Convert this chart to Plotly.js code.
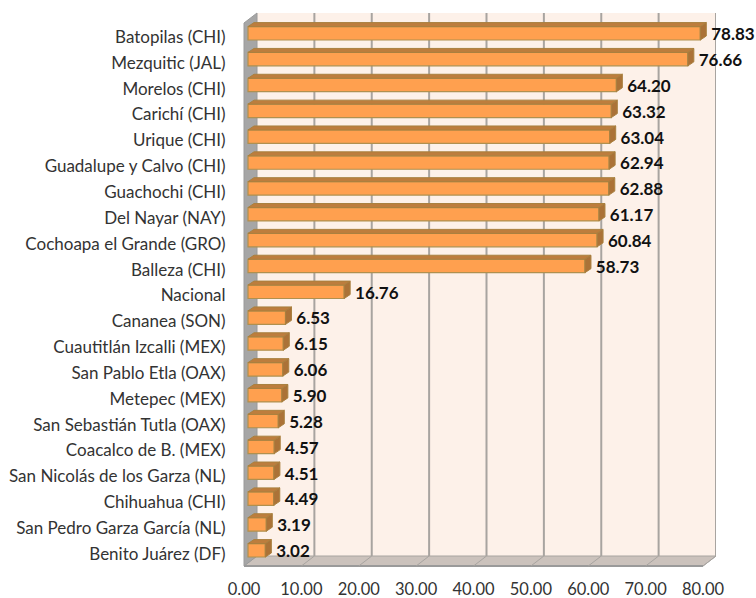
<!DOCTYPE html>
<html><head><meta charset="utf-8">
<script src="https://cdn.plot.ly/plotly-3.0.1.min.js"></script>
<style>html,body{margin:0;padding:0;background:#fff}#c{width:756px;height:598px}</style>
</head><body><div id="c"></div>
<script>
const categories = ["Batopilas (CHI)","Mezquitic (JAL)","Morelos (CHI)","Carichí (CHI)","Urique (CHI)","Guadalupe y Calvo (CHI)","Guachochi (CHI)","Del Nayar (NAY)","Cochoapa el Grande (GRO)","Balleza (CHI)","Nacional","Cananea (SON)","Cuautitlán Izcalli (MEX)","San Pablo Etla (OAX)","Metepec (MEX)","San Sebastián Tutla (OAX)","Coacalco de B. (MEX)","San Nicolás de los Garza (NL)","Chihuahua (CHI)","San Pedro Garza García (NL)","Benito Juárez (DF)"];
const values = [78.83,76.66,64.20,63.32,63.04,62.94,62.88,61.17,60.84,58.73,16.76,6.53,6.15,6.06,5.90,5.28,4.57,4.51,4.49,3.19,3.02];
const xTicks = [0,10,20,30,40,50,60,70,80];

const PLOT = {l:244,r:716,t:13,b:566};
const pxX = 5.7375, pxY = 25.85;
const base = 4/pxX, depthX = 6/pxX, depthY = 4/pxY, half = 0.26;
const idx = categories.map((_,i)=>i);
const wallX = 13/(PLOT.r-PLOT.l), wallY = 10/(PLOT.b-PLOT.t), backX = 13/pxX;

const topX=[],topY=[],sideX=[],sideY=[];
values.forEach((v,i)=>{
  const e = base+v;
  topX.push(base,base+depthX,e+depthX,e,base,null);
  topY.push(i-half,i-half-depthY,i-half-depthY,i-half,i-half,null);
  sideX.push(e,e+depthX,e+depthX,e,e,null);
  sideY.push(i-half,i-half-depthY,i+half-depthY,i+half,i-half,null);
});

const traces = [
 {type:'scatter',mode:'lines',x:topX,y:topY,fill:'toself',fillcolor:'#BD7D3D',line:{color:'#A9803F',width:1},hoverinfo:'skip',showlegend:false},
 {type:'scatter',mode:'lines',x:sideX,y:sideY,fill:'toself',fillcolor:'#AB7237',line:{color:'#A9803F',width:1},hoverinfo:'skip',showlegend:false},
 {type:'bar',orientation:'h',y:idx,x:values,base:base,width:half*2,marker:{color:'#FFA04F',line:{color:'#B0904F',width:1.2}},showlegend:false},
 {type:'scatter',mode:'text',x:values.map(v=>v+base+1.9),y:idx.map(i=>i+0.1),text:values.map(v=>v.toFixed(2)),textposition:'middle right',cliponaxis:false,
  textfont:{family:'Lato, sans-serif',size:17,color:'#111',weight:700},showlegend:false}
];

const GRID='#A8A4A0';
const shapes = [
 {type:'rect',xref:'paper',yref:'paper',x0:wallX,x1:1,y0:wallY,y1:1,fillcolor:'#FDF1E9',line:{width:0},layer:'below'},
 {type:'path',xref:'paper',yref:'paper',path:`M0,0 L${wallX},${wallY} L1,${wallY} L${1-wallX},0 Z`,fillcolor:'#CBC2BC',line:{color:'#A8A4A0',width:1},layer:'below'},
 {type:'path',xref:'paper',yref:'paper',path:`M0,0 L${wallX},${wallY} L${wallX},1 L0,${1-wallY} Z`,fillcolor:'#A6A6A6',line:{color:'#9A9A9A',width:1},layer:'below'},
 {type:'line',xref:'paper',yref:'paper',x0:0,x1:1-wallX,y0:0,y1:0,line:{color:'#9A9A9A',width:2},layer:'below'}
];
xTicks.forEach(k=>{
  if(k>0) shapes.push({type:'line',xref:'x',yref:'paper',x0:k+backX,x1:k+backX,y0:wallY,y1:1,line:{color:GRID,width:2},layer:'below'});
  if(k>0) shapes.push({type:'line',xref:'x',yref:'paper',x0:k,x1:k+backX,y0:0,y1:wallY,line:{color:GRID,width:1},layer:'below'});
});

const tickFont={family:'Lato, sans-serif',size:17,color:'#333'};
const layout = {
 width:756,height:598,
 margin:{l:PLOT.l,r:756-PLOT.r,t:PLOT.t,b:598-PLOT.b,pad:0},
 paper_bgcolor:'#fff',plot_bgcolor:'rgba(0,0,0,0)',
 showlegend:false,shapes,bargap:0,
 xaxis:{range:[0,(PLOT.r-PLOT.l)/pxX],tickvals:xTicks,ticktext:xTicks.map(k=>k.toFixed(2)),showgrid:false,zeroline:false,showline:false,
   ticks:'outside',ticklen:8,tickcolor:'rgba(0,0,0,0)',tickfont:{...tickFont,size:16.5},tickangle:0},
 yaxis:{range:[(PLOT.b-33.3)/pxY,-(33.3-PLOT.t)/pxY],tickvals:idx.map(i=>i+0.14),ticktext:categories,showgrid:false,zeroline:false,showline:false,
   ticks:'outside',ticklen:14,tickcolor:'rgba(0,0,0,0)',tickfont:tickFont}
};
Plotly.newPlot('c',traces,layout,{displayModeBar:false,staticPlot:true});
</script></body></html>
